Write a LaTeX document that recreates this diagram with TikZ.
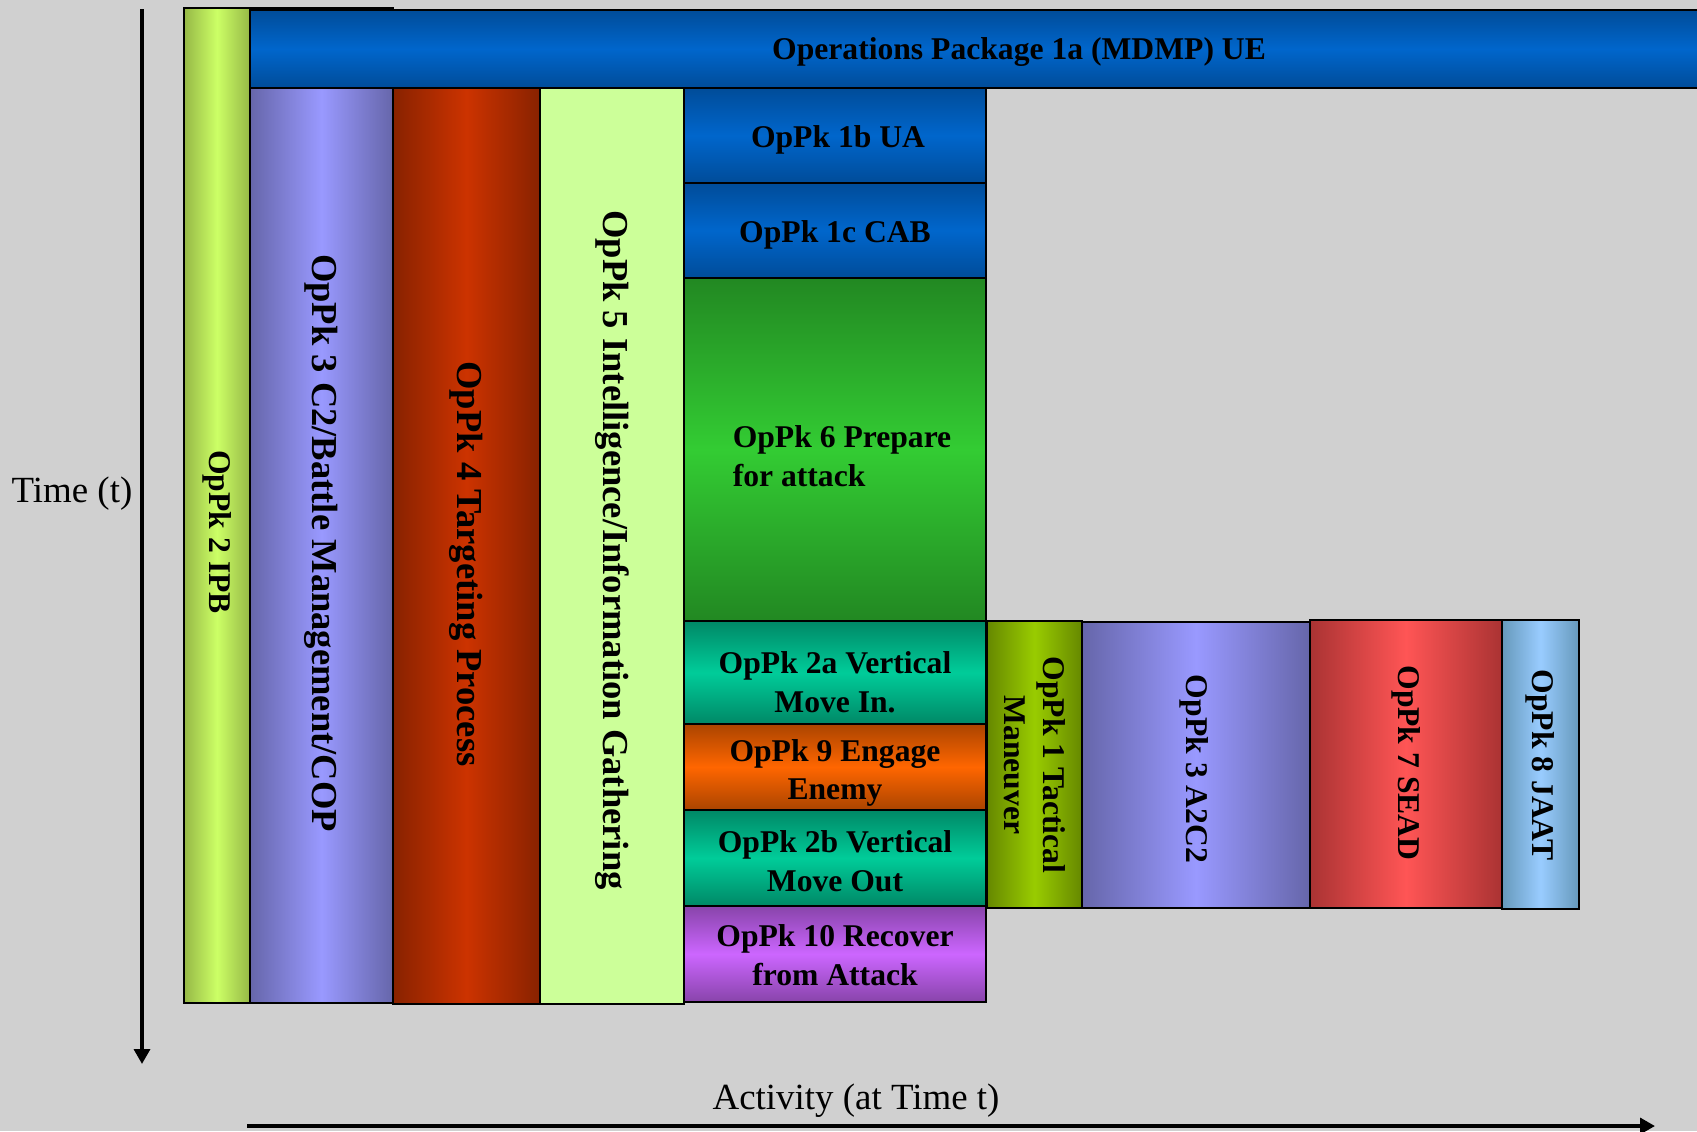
\documentclass[tikz,border=0pt]{standalone}
\usepackage{fontspec}
\setmainfont{Liberation Serif}
\usetikzlibrary{arrows.meta}
\definecolor{bggray}{RGB}{208,208,208}
\definecolor{ipbdark}{RGB}{150,184,70}
\definecolor{ipblight}{RGB}{204,255,102}
\definecolor{bluedark}{RGB}{0,76,153}
\definecolor{bluelight}{RGB}{0,102,204}
\definecolor{purpdark}{RGB}{102,102,170}
\definecolor{purplight}{RGB}{153,153,255}
\definecolor{reddark}{RGB}{136,34,0}
\definecolor{redlight}{RGB}{204,51,0}
\definecolor{palegreen}{RGB}{204,255,153}
\definecolor{greendark}{RGB}{34,136,34}
\definecolor{greenlight}{RGB}{51,204,51}
\definecolor{tealdark}{RGB}{0,136,102}
\definecolor{teallight}{RGB}{0,204,153}
\definecolor{orangedark}{RGB}{170,68,0}
\definecolor{orangelight}{RGB}{255,102,0}
\definecolor{violetdark}{RGB}{136,68,170}
\definecolor{violetlight}{RGB}{204,102,255}
\definecolor{olivedark}{RGB}{102,136,0}
\definecolor{olivelight}{RGB}{153,204,0}
\definecolor{seaddark}{RGB}{170,51,51}
\definecolor{seadlight}{RGB}{255,85,85}
\definecolor{skydark}{RGB}{102,153,187}
\definecolor{skylight}{RGB}{153,204,255}
\tikzset{
  blk/.style={draw=black, line width=0.8pt},
  hshade/.style 2 args={left color=#1, right color=#1, middle color=#2},
  vshade/.style 2 args={top color=#1, bottom color=#1, middle color=#2},
  lbl/.style={font=\bfseries\fontsize{18}{22}\selectfont, align=center, inner sep=0pt},
  biglbl/.style={font=\bfseries\fontsize{20.8}{24}\selectfont, inner sep=0pt},
  axlbl/.style={font=\fontsize{21}{25}\selectfont},
  axis/.style={line width=2.2pt, -{Triangle[length=8.5pt,width=9pt]}}
}

\begin{document}
\begin{tikzpicture}[x=0.2mm, y=-0.2mm]
  \fill[bggray] (0,0) rectangle (1697,1131);
  \useasboundingbox (0,0) rectangle (1697,1131);
  \clip (0,0) rectangle (1697,1131);
  % axes
  \coordinate (t_top) at (142,9);
  \coordinate (t_end) at (142,1064);
  \coordinate (a_start) at (247,1126);
  \coordinate (a_end) at (1655,1126);
  \draw[axis] (t_top) -- (t_end);
  \draw[axis] (a_start) -- (a_end);
  \node[axlbl] (time) at (72,494) {Time (t)};
  \node[axlbl] (activity) at (856,1101) {Activity (at Time t)};
  % long columns
  \draw[blk, hshade={ipbdark}{ipblight}] (184,8) rectangle (250,1003);
  \draw[blk, hshade={purpdark}{purplight}] (250,8) rectangle (393,1003);
  \draw[blk, hshade={reddark}{redlight}] (393,88) rectangle (540,1004);
  \draw[blk, fill=palegreen] (540,88) rectangle (684,1004);
  \node[lbl, rotate=-90] (ipb) at (217,532) {OpPk 2 IPB};
  \node[biglbl, rotate=-90] (c2) at (321,543) {OpPk 3 C2/Battle Management/COP};
  \node[biglbl, rotate=-90] (target) at (466,564) {OpPk 4 Targeting Process};
  \node[biglbl, rotate=-90] (intel) at (612,550) {OpPk 5 Intelligence/Information Gathering};
  % top bar
  \draw[blk, vshade={bluedark}{bluelight}] (250,10) rectangle (1710,88);
  \node[lbl] (mdmp) at (1019,52) {Operations Package 1a (MDMP) UE};
  % stacked packages
  \draw[blk, vshade={bluedark}{bluelight}] (684,88) rectangle (986,183);
  \node[lbl] (ua) at (838,140) {OpPk 1b UA};
  \draw[blk, vshade={bluedark}{bluelight}] (684,183) rectangle (986,278);
  \node[lbl] (cab) at (835,235) {OpPk 1c CAB};
  \draw[blk, vshade={greendark}{greenlight}] (684,278) rectangle (986,621);
  \node[lbl, align=left] (prep) at (842,456) {OpPk 6 Prepare\\for attack};
  \draw[blk, vshade={tealdark}{teallight}] (684,621) rectangle (986,724);
  \node[lbl] (movein) at (835,682) {OpPk 2a Vertical\\Move In.};
  \draw[blk, vshade={orangedark}{orangelight}] (684,724) rectangle (986,810);
  \node[lbl] (engage) at (835,773) {OpPk 9 Engage\\Enemy};
  \draw[blk, vshade={tealdark}{teallight}] (684,810) rectangle (986,906);
  \node[lbl] (moveout) at (835,861) {OpPk 2b Vertical\\Move Out};
  \draw[blk, vshade={violetdark}{violetlight}] (684,906) rectangle (986,1002);
  \node[lbl] (recover) at (835,955) {OpPk 10 Recover\\from Attack};
  % short columns
  \draw[blk, hshade={olivedark}{olivelight}] (987,621) rectangle (1082,908);
  \node[lbl, rotate=-90] (tactical) at (1035,765) {OpPk 1 Tactical\\Maneuver};
  \draw[blk, hshade={purpdark}{purplight}] (1082,622) rectangle (1310,908);
  \node[lbl, rotate=-90] (a2c2) at (1194,769) {OpPk 3 A2C2};
  \draw[blk, hshade={seaddark}{seadlight}] (1310,620) rectangle (1502,908);
  \node[lbl, rotate=-90] (sead) at (1406,763) {OpPk 7 SEAD};
  \draw[blk, hshade={skydark}{skylight}] (1502,620) rectangle (1579,909);
  \node[lbl, rotate=-90] (jaat) at (1540,765) {OpPk 8 JAAT};
\end{tikzpicture}
\end{document}
